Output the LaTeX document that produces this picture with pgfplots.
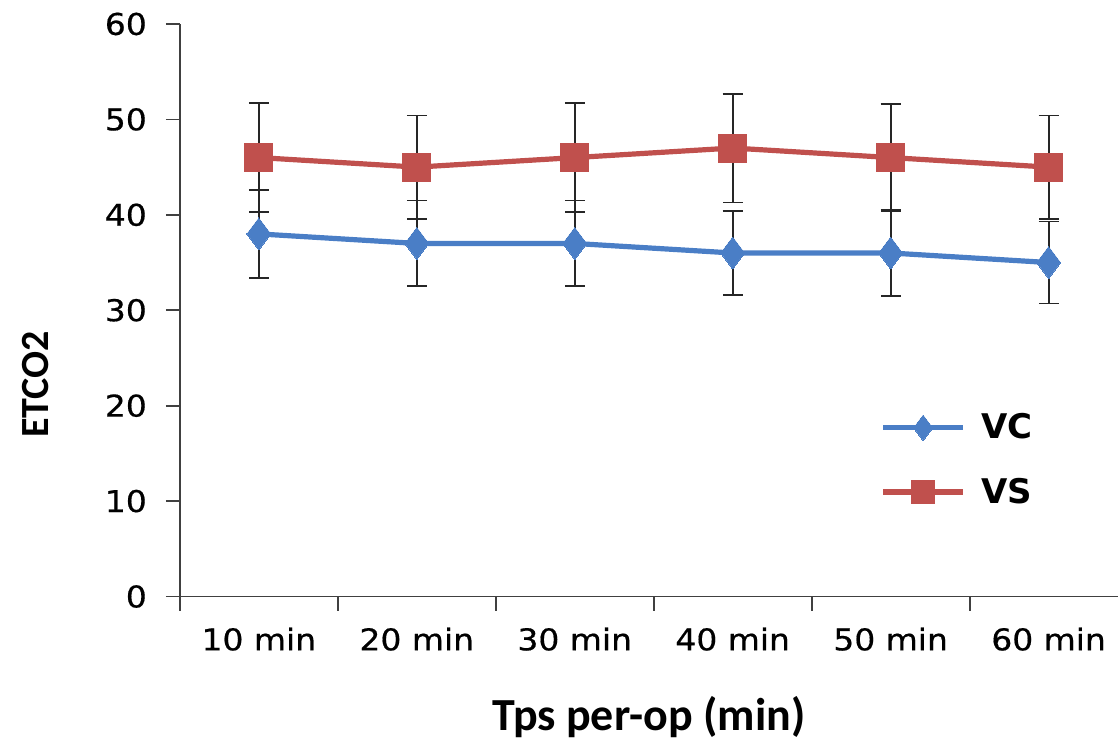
\documentclass[border=0pt]{standalone}
\usepackage{fontspec}
\setmainfont{DejaVu Sans}
\newfontfamily\tickfont[FakeStretch=1.1,FakeBold=0.5]{DejaVu Sans}
\newfontfamily\labfont{Carlito}
\usepackage{pgfplots}
\usepackage{pgfplotstable}
\pgfplotsset{compat=1.18}

\definecolor{vcblue}{HTML}{4A7EC6}
\definecolor{vsred}{HTML}{C0504D}

% mean and SD per time point
\pgfplotstableread{
t vc vcerr vs vserr
1 38 4.6 46 5.7
2 37 4.5 45 5.4
3 37 4.5 46 5.7
4 36 4.4 47 5.7
5 36 4.5 46 5.6
6 35 4.3 45 5.4
}\etco

\begin{document}
\begin{tikzpicture}
\begin{axis}[
    scale only axis,
    width=469.5pt, height=286.5pt,
    xmin=0.5, xmax=6.44, ymin=0, ymax=60,
    clip=false,
    axis lines*=left,
    axis line style={black!75, line width=0.9pt},
    ytick={0,10,...,60},
    xtick={1,...,6},
    xticklabels={10 min,20 min,30 min,40 min,50 min,60 min},
    minor xtick={0.5,1.5,...,5.5},
    tick align=outside,
    major tick length=7pt, minor tick length=7pt,
    tick style={black!75, line width=0.9pt},
    major x tick style={draw=none},
    ticklabel style={font=\tickfont\fontsize{15}{18}\selectfont},
    /pgf/number format/assume math mode=true,
    xticklabel style={yshift=-5pt},
    yticklabel style={xshift=-6pt},
    xlabel={Tps per-op (min)},
    ylabel={ETCO2},
    label style={font=\labfont\bfseries\fontsize{20}{24}\selectfont},
    xlabel style={at={(axis description cs:0.5,-0.21)}, anchor=center,
        font=\labfont\bfseries\fontsize{23}{27}\selectfont},
    ylabel style={at={(axis description cs:-0.154,0.37)}, anchor=center},
    legend style={at={(axis description cs:0.74,0.334)}, anchor=north west,
        draw=none, fill=none, row sep=14pt,
        font=\bfseries\fontsize{17}{20}\selectfont},
    legend cell align=left,
    legend image code/.code={\draw[mark repeat=2,mark phase=2,#1,
        every mark/.append style={scale=0.8}]
        plot coordinates {(0pt,0pt)(20pt,0pt)(40pt,0pt)};
        \path (46pt,0pt);},
]
% error bars first so the markers sit on top
\addplot[forget plot, draw=none, mark=none,
    error bars/.cd, y dir=both, y explicit,
    error bar style={draw=black!85, line width=0.9pt},
    error mark options={draw=black!85, rotate=90, mark size=5pt, line width=0.9pt}]
    table[x=t, y=vc, y error=vcerr]{\etco};
\addplot[forget plot, draw=none, mark=none,
    error bars/.cd, y dir=both, y explicit,
    error bar style={draw=black!85, line width=0.9pt},
    error mark options={draw=black!85, rotate=90, mark size=5pt, line width=0.9pt}]
    table[x=t, y=vs, y error=vserr]{\etco};

\addplot[vcblue, line width=2.6pt, mark=diamond*, mark size=8pt,
    mark options={solid, fill=vcblue, draw=vcblue, line width=0pt}]
    table[x=t, y=vc]{\etco};
\addplot[vsred, line width=2.6pt, mark=square*, mark size=7pt,
    mark options={solid, fill=vsred, draw=vsred, line width=0pt}]
    table[x=t, y=vs]{\etco};
\legend{VC, VS}

\path (rel axis cs:-0.1917,-0.2496) rectangle (rel axis cs:1,1.0419);
\end{axis}
\end{tikzpicture}
\end{document}
